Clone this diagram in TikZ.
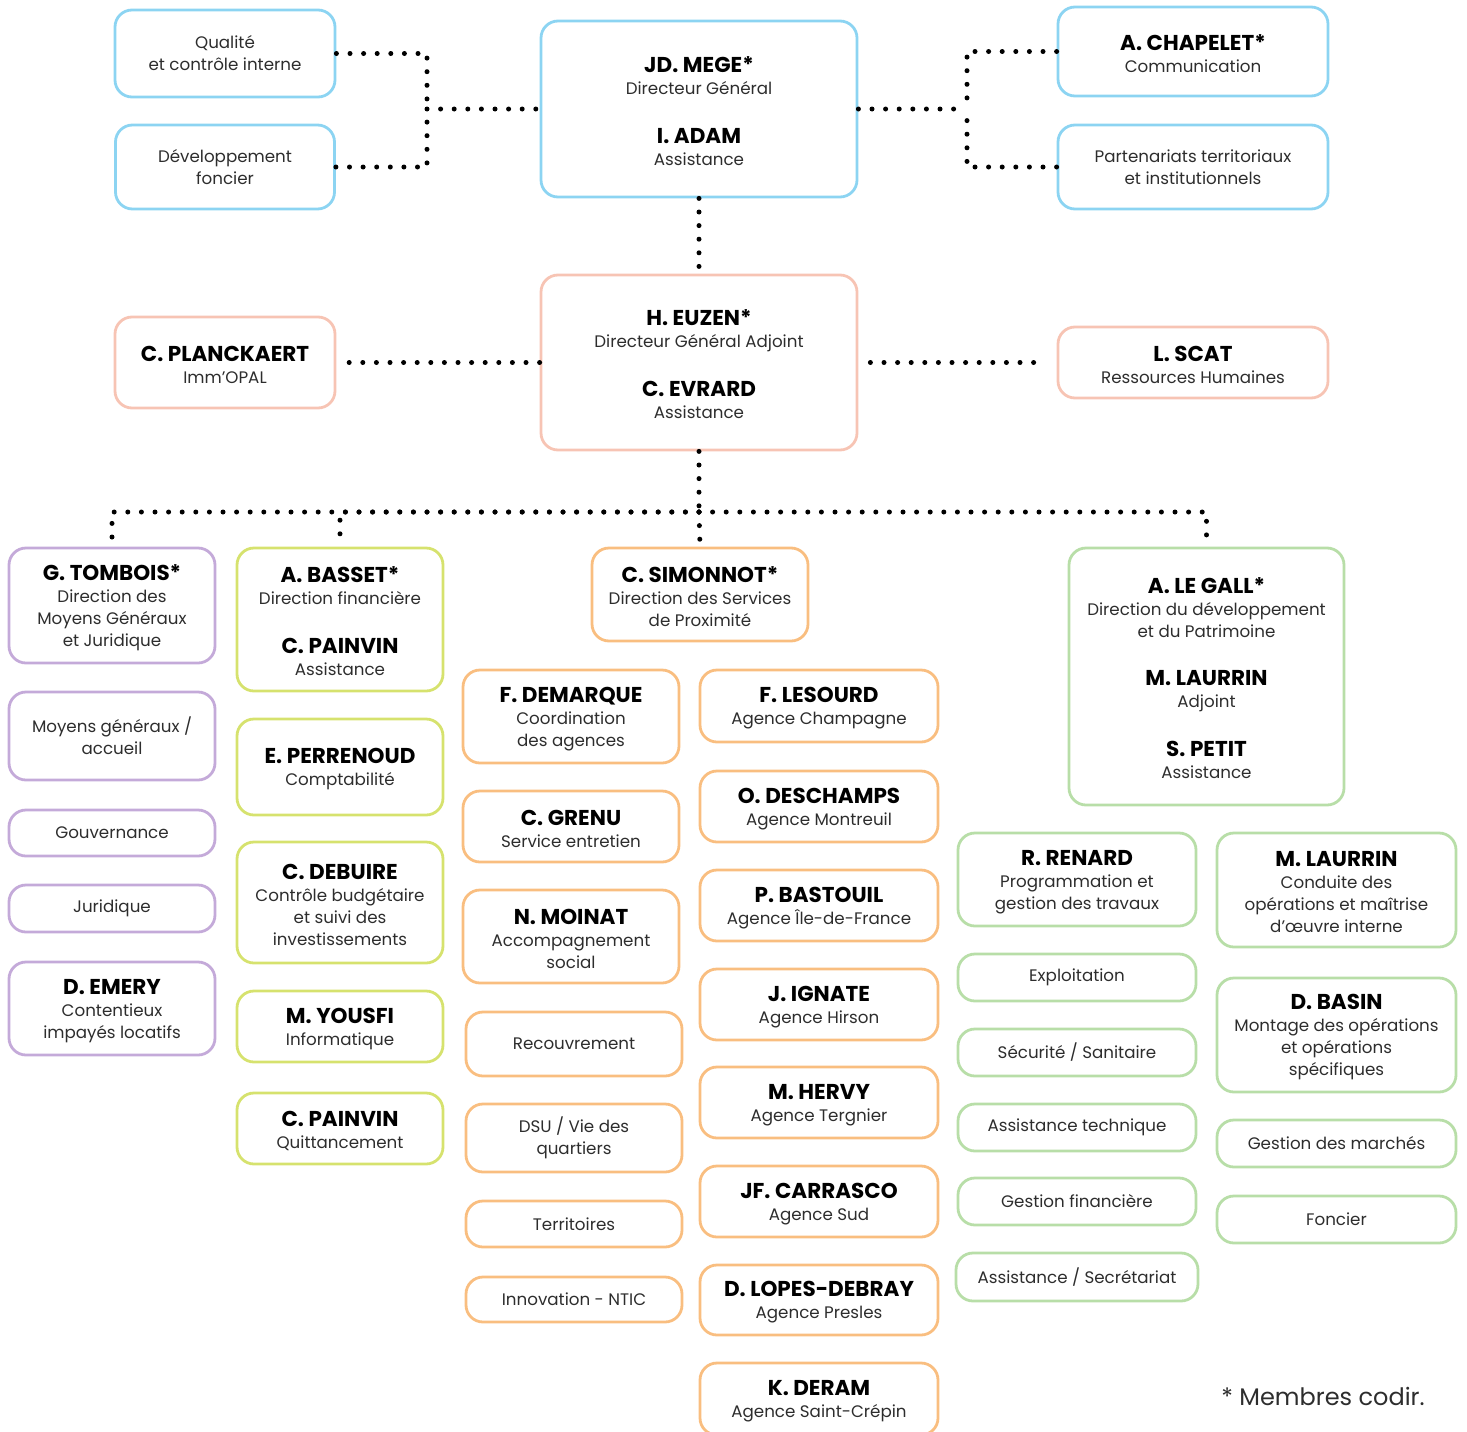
\documentclass[tikz,border=0pt]{standalone}
\usepackage{fontspec}
\setmainfont{Poppins}
\usetikzlibrary{positioning}
\definecolor{skyline}{RGB}{140,212,242}
\definecolor{salmonline}{RGB}{247,196,180}
\definecolor{lilacline}{RGB}{196,170,217}
\definecolor{limeline}{RGB}{214,226,110}
\definecolor{apricotline}{RGB}{249,190,128}
\definecolor{mintline}{RGB}{184,222,168}
\definecolor{bodytext}{RGB}{45,45,45}
% first name of a box (with strut), further names
\newcommand{\nm}[1]{{\rule{0pt}{20pt}\fontsize{21.5}{22}\selectfont\bfseries\color{black}#1}}
\newcommand{\nmb}[1]{{\fontsize{21.5}{22}\selectfont\bfseries\color{black}#1}}

\begin{document}
\begin{tikzpicture}[x=1pt, y=-1pt,
		unit/.style={draw, rounded corners=17pt, line width=2.8pt, align=center, inner sep=0pt,
			text=bodytext, font=\fontsize{16.7}{22}\selectfont},
		blue/.style={unit, draw=skyline},
		salmon/.style={unit, draw=salmonline},
		lilac/.style={unit, draw=lilacline, minimum width=206pt},
		lime/.style={unit, draw=limeline, minimum width=206pt},
		apricot/.style={unit, draw=apricotline},
		mint/.style={unit, draw=mintline},
		link/.style={line width=5pt, line cap=round, dash pattern=on 0pt off 13.6pt},
	]
	\useasboundingbox (0,0) rectangle (1467,1432);
	\begin{scope}
	\clip (0,0) rectangle (1467,1432);

	% direction generale
	\node[blue, minimum width=220pt, minimum height=87pt] (qual) at (225,53.5) {Qualité\\et contrôle interne};
	\node[blue, minimum width=219pt, minimum height=84pt] (devf) at (225,167) {Développement\\foncier};
	\node[blue, minimum width=316pt, minimum height=176pt] (mege) at (699,109) {\nm{JD. MEGE*}\\Directeur Général\\[27pt]\nmb{I. ADAM}\\Assistance};
	\node[blue, minimum width=270pt, minimum height=89pt] (chap) at (1193,51.5) {\nm{A. CHAPELET*}\\Communication};
	\node[blue, minimum width=270pt, minimum height=84pt] (part) at (1193,167) {Partenariats territoriaux\\et institutionnels};

	\node[salmon, minimum width=220pt, minimum height=91pt] (planck) at (225,362.5) {\nm{C. PLANCKAERT}\\Imm’OPAL};
	\node[salmon, minimum width=316pt, minimum height=175pt] (euzen) at (699,362.5) {\nm{H. EUZEN*}\\Directeur Général Adjoint\\[27pt]\nmb{C. EVRARD}\\Assistance};
	\node[salmon, minimum width=270pt, minimum height=71pt] (scat) at (1193,362.5) {\nm{L. SCAT}\\Ressources Humaines};

	% moyens generaux
	\node[lilac, minimum height=115pt] (tombois) at (112,605.5) {\nm{G. TOMBOIS*}\\Direction des\\Moyens Généraux\\et Juridique};
	\node[lilac, minimum height=88pt] (moyg) at (112,736) {Moyens généraux /\\accueil};
	\node[lilac, minimum height=46pt] (gouv) at (112,833) {Gouvernance};
	\node[lilac, minimum height=47pt] (jurid) at (112,908.5) {Juridique};
	\node[lilac, minimum height=93pt] (emery) at (112,1008.5) {\nm{D. EMERY}\\Contentieux\\impayés locatifs};

	% finances
	\node[lime, minimum height=143pt] (basset) at (340,619.5) {\nm{A. BASSET*}\\Direction financière\\[27pt]\nmb{C. PAINVIN}\\Assistance};
	\node[lime, minimum height=96pt] (perren) at (340,767) {\nm{E. PERRENOUD}\\Comptabilité};
	\node[lime, minimum height=121pt] (debuire) at (340,902.5) {\nm{C. DEBUIRE}\\Contrôle budgétaire\\et suivi des\\investissements};
	\node[lime, minimum height=71pt] (yousfi) at (340,1026.5) {\nm{M. YOUSFI}\\Informatique};
	\node[lime, minimum height=71pt] (painvin) at (340,1128.5) {\nm{C. PAINVIN}\\Quittancement};

	% proximite
	\node[apricot, minimum width=216pt, minimum height=93pt] (simonnot) at (700,594.5) {\nm{C. SIMONNOT*}\\Direction des Services\\de Proximité};
	\node[apricot, minimum width=216pt, minimum height=93pt] (demarque) at (571,716.5) {\nm{F. DEMARQUE}\\Coordination\\des agences};
	\node[apricot, minimum width=216pt, minimum height=71pt] (grenu) at (571,826.5) {\nm{C. GRENU}\\Service entretien};
	\node[apricot, minimum width=216pt, minimum height=93pt] (moinat) at (571,936.5) {\nm{N. MOINAT}\\Accompagnement\\social};
	\node[apricot, minimum width=216pt, minimum height=64pt] (recouv) at (574,1044) {Recouvrement};
	\node[apricot, minimum width=216pt, minimum height=68pt] (dsu) at (574,1138) {DSU / Vie des\\quartiers};
	\node[apricot, minimum width=216pt, minimum height=46pt] (territ) at (574,1224) {Territoires};
	\node[apricot, minimum width=216pt, minimum height=45pt] (innov) at (574,1299.5) {Innovation - NTIC};
	\node[apricot, minimum width=238pt, minimum height=72pt] (lesourd) at (819,706) {\nm{F. LESOURD}\\Agence Champagne};
	\node[apricot, minimum width=238pt, minimum height=71pt] (deschamps) at (819,806.5) {\nm{O. DESCHAMPS}\\Agence Montreuil};
	\node[apricot, minimum width=238pt, minimum height=71pt] (bastouil) at (819,905.5) {\nm{P. BASTOUIL}\\Agence Île-de-France};
	\node[apricot, minimum width=238pt, minimum height=71pt] (ignate) at (819,1004.5) {\nm{J. IGNATE}\\Agence Hirson};
	\node[apricot, minimum width=238pt, minimum height=71pt] (hervy) at (819,1102.5) {\nm{M. HERVY}\\Agence Tergnier};
	\node[apricot, minimum width=238pt, minimum height=71pt] (carrasco) at (819,1201.5) {\nm{JF. CARRASCO}\\Agence Sud};
	\node[apricot, minimum width=238pt, minimum height=70pt] (lopes) at (819,1300) {\nm{D. LOPES-DEBRAY}\\Agence Presles};
	\node[apricot, minimum width=238pt, minimum height=72pt] (deram) at (819,1399) {\nm{K. DERAM}\\Agence Saint-Crépin};

	% developpement et patrimoine
	\node[mint, minimum width=275pt, minimum height=257pt] (legall) at (1206.5,676.5) {\nm{A. LE GALL*}\\Direction du développement\\et du Patrimoine\\[26pt]\nmb{M. LAURRIN}\\Adjoint\\[27pt]\nmb{S. PETIT}\\Assistance};
	\node[mint, minimum width=238pt, minimum height=93pt] (renard) at (1077,879.5) {\nm{R. RENARD}\\Programmation et\\gestion des travaux};
	\node[mint, minimum width=238pt, minimum height=47pt] (exploit) at (1077,977.5) {Exploitation};
	\node[mint, minimum width=238pt, minimum height=47pt] (secu) at (1077,1052.5) {Sécurité / Sanitaire};
	\node[mint, minimum width=238pt, minimum height=47pt] (asstech) at (1077,1127.5) {Assistance technique};
	\node[mint, minimum width=238pt, minimum height=47pt] (gestfin) at (1077,1201.5) {Gestion financière};
	\node[mint, minimum width=242pt, minimum height=48pt] (asssec) at (1077,1277) {Assistance / Secrétariat};
	\node[mint, minimum width=239pt, minimum height=114pt] (laurrin) at (1336.5,890) {\nm{M. LAURRIN}\\Conduite des\\opérations et maîtrise\\d’œuvre interne};
	\node[mint, minimum width=239pt, minimum height=114pt] (basin) at (1336.5,1035) {\nm{D. BASIN}\\Montage des opérations\\et opérations\\spécifiques};
	\node[mint, minimum width=239pt, minimum height=47pt] (marches) at (1336.5,1143.5) {Gestion des marchés};
	\node[mint, minimum width=239pt, minimum height=47pt] (foncier) at (1336.5,1219.5) {Foncier};

	\node[font=\fontsize{24}{28}\selectfont, text=bodytext] (codir) at (1323,1396) {* Membres codir.};

	% liaisons
	\coordinate (jl) at (427,109);
	\coordinate (jr) at (967,109);
	\coordinate (bus) at (699,512);
	\draw[link] (qual.east) -| (jl);
	\draw[link] (devf.east) -| (jl);
	\draw[link] (jl) -- (mege.west);
	\draw[link] (chap.west) -| (jr);
	\draw[link] (part.west) -| (jr);
	\draw[link] (mege.east) -- (jr);
	\draw[link] (mege.south) -- (euzen.north);
	\draw[link] (euzen.west) -- (planck.east);
	\draw[link, shorten <=12pt, shorten >=11pt] (euzen.east) -- (scat.west);
	\draw[link] (euzen.south) -- (bus);
	\draw[link] (bus) -| (tombois.north);
	\draw[link] (bus) -| (basset.north);
	\draw[link] (bus) -- (simonnot.north);
	\draw[link] (bus) -| (legall.north);
	\end{scope}
\end{tikzpicture}
\end{document}
